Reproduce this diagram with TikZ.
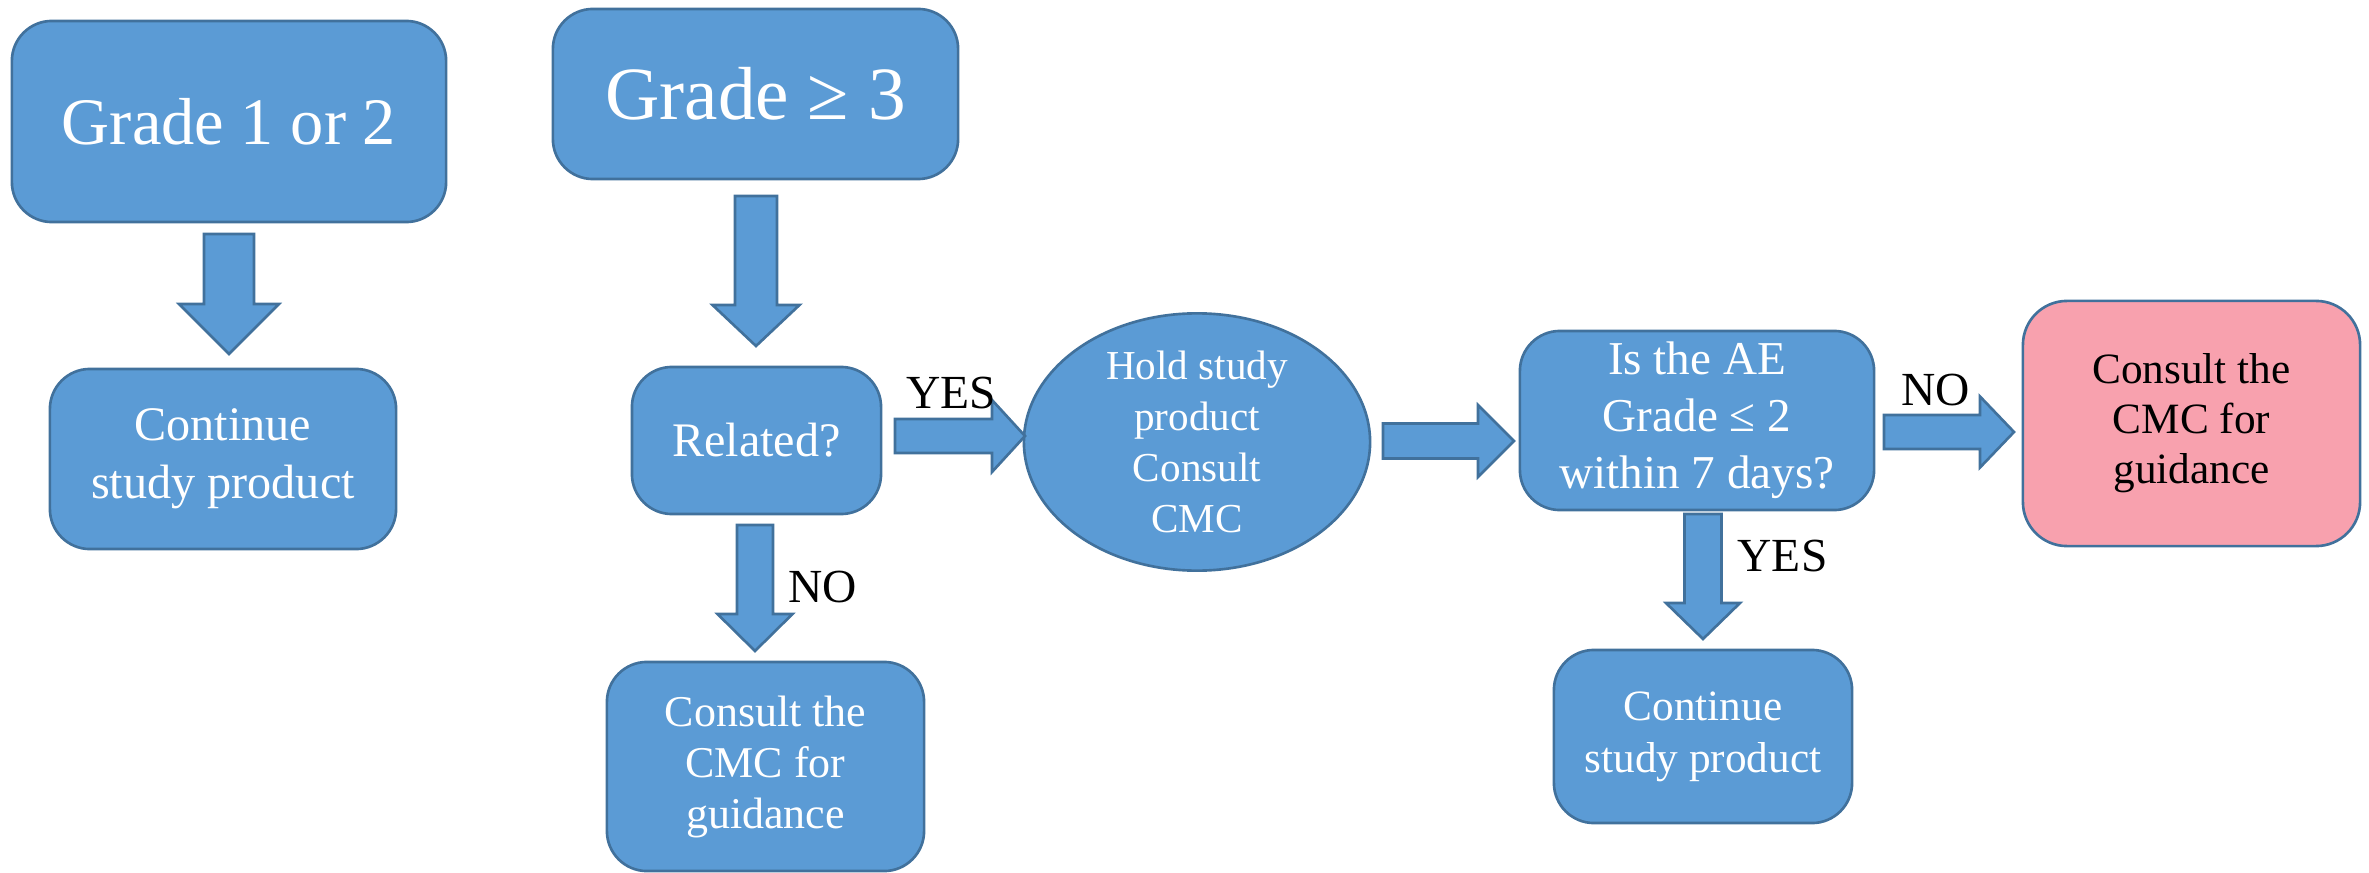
\documentclass[tikz,border=0pt]{standalone}
\usepackage{fontspec}
\setmainfont{Liberation Serif}
\usetikzlibrary{shapes.geometric}
\definecolor{boxblue}{HTML}{5B9BD5}
\definecolor{boxedge}{HTML}{41719C}
\definecolor{boxpink}{HTML}{F8A1AE}

% block arrow pointing down: x, y of top, y of tip, shaft width, head width, head length
\newcommand{\downblock}[6]{%
  \draw[blockarrow] ({#1-#4/2},#2) -- ({#1+#4/2},#2) -- ({#1+#4/2},{#3-#6})
    -- ({#1+#5/2},{#3-#6}) -- (#1,#3) -- ({#1-#5/2},{#3-#6})
    -- ({#1-#4/2},{#3-#6}) -- cycle;}
% block arrow pointing right: y, x of start, x of tip, shaft width, head width, head length
\newcommand{\rightblock}[6]{%
  \draw[blockarrow] (#2,{#1-#4/2}) -- ({#3-#6},{#1-#4/2}) -- ({#3-#6},{#1-#5/2})
    -- (#3,#1) -- ({#3-#6},{#1+#5/2}) -- ({#3-#6},{#1+#4/2})
    -- (#2,{#1+#4/2}) -- cycle;}

\begin{document}
\begin{tikzpicture}[x=0.01cm, y=-0.01cm,
  box/.style={draw=boxedge, fill=boxblue, line width=0.75pt, rounded corners=0.4cm,
    text=white, align=center, inner sep=0pt},
  pinkbox/.style={box, fill=boxpink, text=black, rounded corners=0.44cm},
  oval/.style={ellipse, draw=boxedge, fill=boxblue, line width=0.75pt,
    text=white, align=center, inner sep=0pt},
  blockarrow/.style={draw=boxedge, fill=boxblue, line width=0.75pt, line join=miter},
  lbl/.style={anchor=base west, inner sep=0pt, text=black,
    font=\fontsize{13.5}{16}\selectfont}]
\useasboundingbox (0,0) rectangle (2369,873);

% boxes
\node[box, minimum width=4.34cm, minimum height=2.01cm,
  font=\fontsize{18.9}{22}\selectfont] (g12) at (229,121.5) {Grade 1 or 2};
\node[box, minimum width=3.46cm, minimum height=1.80cm,
  font=\fontsize{13.7}{16.5}\selectfont] (cont1) at (223,459) {Continue\\study product};
\node[box, minimum width=4.05cm, minimum height=1.70cm,
  font=\fontsize{21.4}{25}\selectfont] (g3) at (755.5,94) {Grade ≥ 3};
\node[box, minimum width=2.49cm, minimum height=1.47cm,
  font=\fontsize{13.7}{16.5}\selectfont] (rel) at (756.5,440.5) {Related?};
\node[oval, minimum width=3.46cm, minimum height=2.49cm,
  font=\fontsize{11.7}{14.5}\selectfont] (hold) at (1197,442) {Hold study\\product\\Consult\\CMC};
\node[box, minimum width=3.17cm, minimum height=2.09cm,
  font=\fontsize{12.5}{14.5}\selectfont] (cons1) at (765.5,766.5) {Consult the\\CMC for\\guidance};
\node[box, minimum width=3.54cm, minimum height=1.79cm,
  font=\fontsize{13.4}{16.2}\selectfont] (ae) at (1697,420.5) {Is the AE\\Grade ≤ 2\\within 7 days?};
\node[pinkbox, minimum width=3.37cm, minimum height=2.45cm,
  font=\fontsize{12.3}{14.2}\selectfont] (cons2) at (2191.5,423.5) {Consult the\\CMC for\\guidance};
\node[box, minimum width=2.98cm, minimum height=1.73cm,
  font=\fontsize{12.3}{14.8}\selectfont] (cont2) at (1703,736.5) {Continue\\study product};

% block arrows
\downblock{229}{234}{354}{50}{100}{50}
\downblock{756}{196}{346}{42}{87}{41}
\rightblock{436}{895}{1025}{34}{72}{33}
\rightblock{441}{1383}{1514}{35}{72}{36}
\downblock{755}{525}{651}{36}{75}{37}
\rightblock{432}{1884}{2014}{34}{71}{34}
\downblock{1703}{514}{639}{37}{74}{36}

% branch labels
\node[lbl] (yes1) at (906,409) {YES};
\node[lbl] (no1) at (788,602) {NO};
\node[lbl] (no2) at (1901,405) {NO};
\node[lbl] (yes2) at (1737,571) {YES};
\end{tikzpicture}
\end{document}
